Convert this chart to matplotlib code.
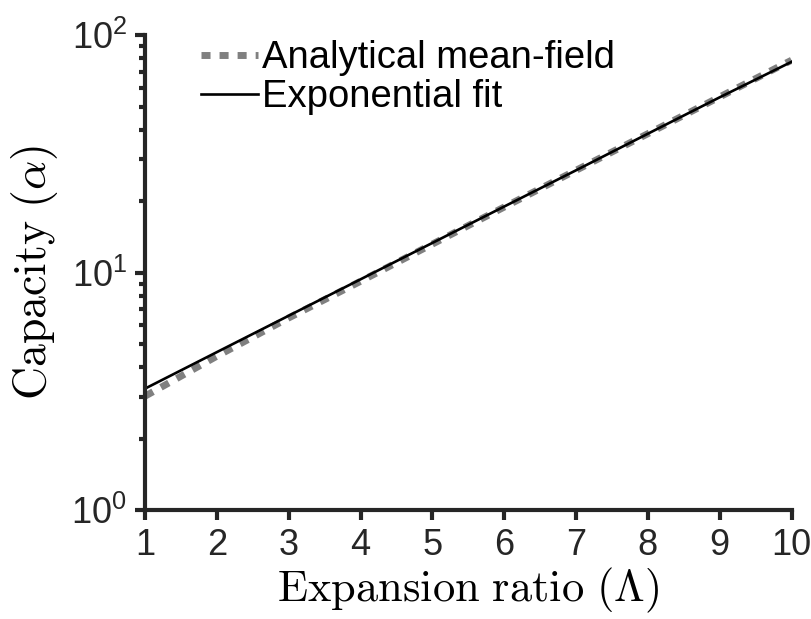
import matplotlib
matplotlib.use("Agg")
import matplotlib.pyplot as plt
from matplotlib.ticker import LogLocator, NullFormatter

plt.rcParams['font.family'] = ['Liberation Sans', 'DejaVu Sans']
plt.rcParams['mathtext.fontset'] = 'custom'
plt.rcParams['mathtext.rm'] = 'Liberation Sans'
plt.rcParams['mathtext.it'] = 'Liberation Sans:italic'

# expansion ratio and capacity values
expansion = [1, 2, 3, 4, 5, 6, 7, 8, 9, 10]
capacity_meanfield = [3.02, 4.45, 6.45, 9.2, 13.2, 18.9, 27.0, 38.5, 55.0, 78.5]
capacity_fit = [3.25, 4.63, 6.59, 9.38, 13.35, 19.0, 27.0, 38.5, 54.8, 77.3]

x_ticks = [1, 2, 3, 4, 5, 6, 7, 8, 9, 10]

fig = plt.figure(figsize=(8.11, 6.19), dpi=100)
ax = fig.add_axes([0.179, 0.176, 0.797, 0.767])

ax.plot(expansion, capacity_meanfield, color='#808080', lw=5,
        ls=(0, (1.3, 1.3)), dash_capstyle='butt', label='Analytical mean-field')
ax.plot(expansion, capacity_fit, color='black', lw=1.9, label='Exponential fit')

ax.set_yscale('log')
ax.set_xlim(1, 10)
ax.set_ylim(1, 100)
ax.set_xticks(x_ticks)
ax.yaxis.set_minor_locator(LogLocator(base=10, subs=range(2, 10)))
ax.yaxis.set_minor_formatter(NullFormatter())

for side in ['top', 'right']:
    ax.spines[side].set_visible(False)
for side in ['left', 'bottom']:
    ax.spines[side].set_linewidth(3)
    ax.spines[side].set_color('#262626')

ax.tick_params(which='major', direction='out', length=7, width=3, color='#262626',
               labelsize=26, labelcolor='#262626', pad=6)
ax.tick_params(which='minor', direction='out', length=4, width=3, color='#262626')

ax.set_xlabel(r'$\mathrm{Expansion\ ratio}\ (\Lambda)$', fontsize=32,
              math_fontfamily='cm', labelpad=2)
ax.set_ylabel(r'$\mathrm{Capacity}\ (\alpha)$', fontsize=33,
              math_fontfamily='cm', labelpad=8)

ax.legend(loc='upper left', bbox_to_anchor=(0.062, 1.022), frameon=False,
          fontsize=27.5, handlelength=1.5, handletextpad=0.1, labelspacing=0.08,
          borderaxespad=0)

fig.savefig('out.png', dpi=100)
